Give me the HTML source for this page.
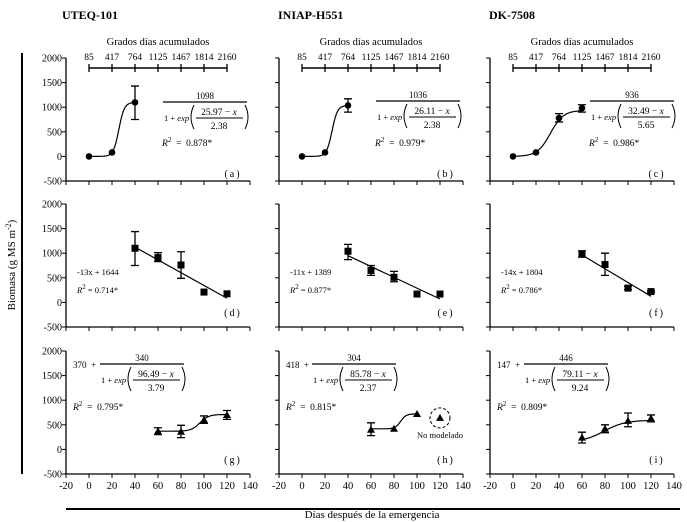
<!DOCTYPE html>
<html><head><meta charset="utf-8"><style>
body{margin:0;background:#fff}
svg{display:block;font-family:"Liberation Serif",serif}
</style></head><body>
<svg id="fig" width="687" height="522" viewBox="0 0 687 522" xmlns="http://www.w3.org/2000/svg">
<line x1="22" y1="53" x2="22" y2="474" stroke="#000" stroke-width="2"/>
<text x="0" y="0" transform="translate(15,265) rotate(-90)" text-anchor="middle" font-size="11">Biomasa (g MS m<tspan dy="-4" font-size="8">-2</tspan><tspan dy="4">)</tspan></text>
<line x1="66" y1="509" x2="680" y2="509" stroke="#000" stroke-width="2"/>
<text x="372" y="518" text-anchor="middle" font-size="11">Días después de la emergencia</text>
<text x="62" y="19" font-size="12" font-weight="bold">UTEQ-101</text>
<text x="278" y="19" font-size="12" font-weight="bold">INIAP-H551</text>
<text x="489" y="19" font-size="12" font-weight="bold">DK-7508</text>
</svg>
<script>
const xTicks=[-20,0,20,40,60,80,100,120,140];
const yTicks=[-500,0,500,1000,1500,2000];
const gddPos=[0,20,40,60,80,100,120];
const gddLabels=["85","417","764","1125","1467","1814","2160"];
const aX=[0,20,40]; const aY=[0,80,1098]; const aErrLo=[0,80,750]; const aErrHi=[0,80,1430];
const bX=[0,20,40]; const bY=[0,80,1036]; const bErrLo=[0,80,900]; const bErrHi=[0,80,1170];
const cX=[0,20,40,60]; const cY=[0,80,780,980]; const cErrLo=[0,80,700,900]; const cErrHi=[0,80,870,1050];
const dX=[40,60,80,100,120]; const dY=[1100,910,760,210,175]; const dErrLo=[750,830,490,210,175]; const dErrHi=[1440,1010,1030,210,175];
const eX=[40,60,80,100,120]; const eY=[1040,650,510,170,170]; const eErrLo=[870,550,420,170,170]; const eErrHi=[1180,750,630,170,170];
const fX=[60,80,100,120]; const fY=[980,770,290,220]; const fErrLo=[920,550,260,200]; const fErrHi=[1050,1000,330,240];
const gX=[60,80,100,120]; const gY=[370,360,600,700]; const gErrLo=[300,240,530,610]; const gErrHi=[440,490,680,790];
const hX=[60,80,100]; const hY=[400,420,720]; const hErrLo=[280,420,720]; const hErrHi=[540,420,720];
const hExcludedX=[120]; const hExcludedY=[640];
const iX=[60,80,100,120]; const iY=[240,420,580,630]; const iErrLo=[130,340,460,560]; const iErrHi=[350,500,740,700];
const aFit=[0,1098,25.97,2.38]; const bFit=[0,1036,26.11,2.38]; const cFit=[0,936,32.49,5.65];
const gFit=[370,340,96.49,3.79]; const hFit=[418,304,85.78,2.37]; const iFit=[147,446,79.11,9.24];
const dLin=[-13,1644]; const eLin=[-11,1389]; const fLin=[-14,1804];

const NS="http://www.w3.org/2000/svg";
const svg=document.getElementById('fig');
function mk(tag,attrs,parent){const e=document.createElementNS(NS,tag);for(const k in attrs)e.setAttribute(k,attrs[k]);(parent||svg).appendChild(e);return e;}
const colX=[66,279,490], rowY=[58,204,351], W=184, H=123;

function panel(col,row,name,o){
 const ox=colX[col], oy=rowY[row];
 const g=mk('g',{});
 
 
 const px=x=>ox+(x+20)/160*W, py=y=>oy+(2000-y)/2500*H;
 const ya=mk('line',{x1:ox,y1:oy,x2:ox,y2:oy+H,stroke:'#000','stroke-width':1.3},g);
 
 
 const xa=mk('line',{x1:ox,y1:oy+H,x2:ox+W,y2:oy+H,stroke:'#000','stroke-width':1.3},g);
 
 
 yTicks.forEach(v=>{mk('line',{x1:ox-4,y1:py(v),x2:ox,y2:py(v),stroke:'#000'},g);
  if(col===0){const t=mk('text',{x:ox-4,y:py(v)+3.5,'text-anchor':'end','font-size':10},g);t.textContent=v;
   
   }});
 xTicks.forEach(v=>{mk('line',{x1:px(v),y1:oy+H,x2:px(v),y2:oy+H+4,stroke:'#000'},g);
  if(row===2){const t=mk('text',{x:px(v),y:oy+H+15,'text-anchor':'middle','font-size':10.5},g);t.textContent=v;
   
   }});
 if(row===0){
  const tt=mk('text',{x:px(60),y:45,'text-anchor':'middle','font-size':10.5},g);tt.textContent='Grados días acumulados';
  
  
  mk('line',{x1:px(gddPos[0]),y1:68,x2:px(gddPos[gddPos.length-1]),y2:68,stroke:'#000','stroke-width':1.5},g);
  gddPos.forEach((p,k)=>{mk('line',{x1:px(p),y1:64,x2:px(p),y2:72,stroke:'#000','stroke-width':1.3},g);
   const t=mk('text',{x:px(p),y:60,'text-anchor':'middle','font-size':9.5},g);t.textContent=gddLabels[k];
   
   });
 }
 if(o.fit){const f=o.fit;let d='';const x0=o.X[0],x1=o.X[o.X.length-1];
  for(let s=0;s<=100;s++){const x=x0+(x1-x0)*s/100;const y=f[0]+f[1]/(1+Math.exp((f[2]-x)/f[3]));d+=(s?'L':'M')+px(x).toFixed(1)+','+py(y).toFixed(1);}
  const c=mk('path',{d:d,fill:'none',stroke:'#000','stroke-width':1.2},g);
  
  }
 if(o.lin){const x0=o.X[0],x1=o.X[o.X.length-1];
  const l=mk('line',{x1:px(x0),y1:py(o.lin[0]*x0+o.lin[1]),x2:px(x1),y2:py(o.lin[0]*x1+o.lin[1]),stroke:'#000','stroke-width':1.2},g);
  
  }
 o.X.forEach((x,k)=>{const cx=px(x),cy=py(o.Y[k]);
  if(o.hi[k]!==o.lo[k]){const eb=mk('path',{d:`M${cx},${py(o.hi[k])}V${py(o.lo[k])}M${cx-4},${py(o.hi[k])}h8M${cx-4},${py(o.lo[k])}h8`,stroke:'#000','stroke-width':1.3,fill:'none'},g);
   
   }
  let m;
  if(o.m==='c')m=mk('circle',{cx:cx,cy:cy,r:3.3,fill:'#000'},g);
  else if(o.m==='s')m=mk('rect',{x:cx-3.5,y:cy-3.5,width:7,height:7,fill:'#000'},g);
  else m=mk('path',{d:`M${cx},${cy-4}L${cx+4},${cy+3}L${cx-4},${cy+3}Z`,fill:'#000'},g);
  
  
 });
 const lb=mk('text',{x:ox+167,y:oy+(row===0?119:112),'text-anchor':'middle','font-size':10,'letter-spacing':'2'},g);lb.textContent='('+name+')';
 
 
 return {g,ox,oy,px,py};
}

function txt(g,x,y,s,sz,extra){const t=mk('text',Object.assign({x:x,y:y,'font-size':sz||10},extra||{}),g);t.innerHTML=s;return t;}
function logisticEq(g,L,Y,num,c,sc){
 const a=txt(g,L+42,Y-3,num,9,{'text-anchor':'middle'});
 
 
 mk('line',{x1:L,y1:Y,x2:L+84,y2:Y,stroke:'#000','stroke-width':1.2},g);
 const b=txt(g,L+1,Y+19,'1 + <tspan font-style="italic">exp</tspan>',8.5);
 
 
 mk('path',{d:`M${L+31},${Y+3}q-6,12 0,24`,fill:'none',stroke:'#000'},g);
 mk('path',{d:`M${L+82},${Y+3}q6,12 0,24`,fill:'none',stroke:'#000'},g);
 txt(g,L+56,Y+13,c+' &#8722; <tspan font-style="italic">x</tspan>',9.5,{'text-anchor':'middle'});
 mk('line',{x1:L+33,y1:Y+16,x2:L+80,y2:Y+16,stroke:'#000'},g);
 txt(g,L+56,Y+27,sc,9.5,{'text-anchor':'middle'});
}
function r2(g,x,y,v,sz,tight){const t=txt(g,x,y,'<tspan font-style="italic">R</tspan><tspan dy="-4" font-size="7">2</tspan><tspan dy="4">'+(tight?' = ':' &#160;= &#160;')+v+'*</tspan>',sz);
 
 }

let P;
P=panel(0,0,'a',{X:aX,Y:aY,lo:aErrLo,hi:aErrHi,fit:aFit,m:'c'});logisticEq(P.g,P.ox+97,P.oy+44,'1098','25.97','2.38');r2(P.g,P.ox+96,P.oy+88,'0.878',9.5);
P=panel(1,0,'b',{X:bX,Y:bY,lo:bErrLo,hi:bErrHi,fit:bFit,m:'c'});logisticEq(P.g,P.ox+97,P.oy+43,'1036','26.11','2.38');r2(P.g,P.ox+96,P.oy+88,'0.979',9.5);
P=panel(2,0,'c',{X:cX,Y:cY,lo:cErrLo,hi:cErrHi,fit:cFit,m:'c'});logisticEq(P.g,P.ox+100,P.oy+43,'936','32.49','5.65');r2(P.g,P.ox+99,P.oy+88,'0.986',9.5);
P=panel(0,1,'d',{X:dX,Y:dY,lo:dErrLo,hi:dErrHi,lin:dLin,m:'s'});txt(P.g,P.ox+11,P.oy+71,'-13x + 1644',8.5);r2(P.g,P.ox+11,P.oy+89,'0.714',8.5,true);
P=panel(1,1,'e',{X:eX,Y:eY,lo:eErrLo,hi:eErrHi,lin:eLin,m:'s'});txt(P.g,P.ox+11,P.oy+71,'-11x + 1389',8.5);r2(P.g,P.ox+11,P.oy+89,'0.877',8.5,true);
P=panel(2,1,'f',{X:fX,Y:fY,lo:fErrLo,hi:fErrHi,lin:fLin,m:'s'});txt(P.g,P.ox+11,P.oy+71,'-14x + 1804',8.5);r2(P.g,P.ox+11,P.oy+89,'0.786',8.5,true);
P=panel(0,2,'g',{X:gX,Y:gY,lo:gErrLo,hi:gErrHi,fit:gFit,m:'t'});txt(P.g,P.ox+7,P.oy+17,'370 &#160;+',9);logisticEq(P.g,P.ox+34,P.oy+13,'340','96.49','3.79');r2(P.g,P.ox+7,P.oy+59,'0.795',9.5);
P=panel(1,2,'h',{X:hX,Y:hY,lo:hErrLo,hi:hErrHi,fit:hFit,m:'t'});txt(P.g,P.ox+7,P.oy+17,'418 &#160;+',9);logisticEq(P.g,P.ox+33,P.oy+13,'304','85.78','2.37');r2(P.g,P.ox+7,P.oy+59,'0.815',9.5);
{const cx=P.px(hExcludedX[0]),cy=P.py(hExcludedY[0]);
 const ex=mk('path',{d:`M${cx},${cy-4}L${cx+4},${cy+3}L${cx-4},${cy+3}Z`,fill:'#000'},P.g);
 
 
 const cc=mk('circle',{cx:cx,cy:cy,r:10,fill:'none',stroke:'#000','stroke-dasharray':'3,2'},P.g);
 
 
 const nm=txt(P.g,cx,cy+20,'No modelado',8.5,{'text-anchor':'middle'});
 
 }
P=panel(2,2,'i',{X:iX,Y:iY,lo:iErrLo,hi:iErrHi,fit:iFit,m:'t'});txt(P.g,P.ox+7,P.oy+17,'147 &#160;+',9);logisticEq(P.g,P.ox+34,P.oy+13,'446','79.11','9.24');r2(P.g,P.ox+7,P.oy+59,'0.809',9.5);
</script>
</body></html>
